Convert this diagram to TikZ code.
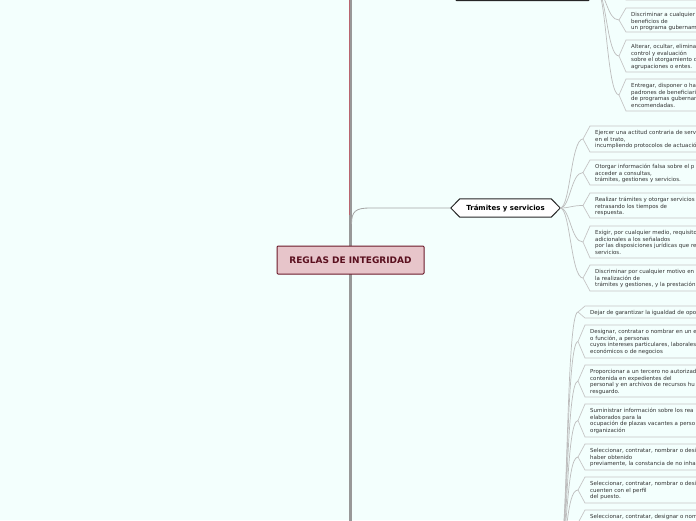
\documentclass[tikz,border=0pt]{standalone}
\usepackage{fontspec}
\setmainfont{DejaVu Sans}
\definecolor{bgc}{HTML}{F3FFFD}
\definecolor{cfill}{HTML}{E7C5CA}
\definecolor{cdraw}{HTML}{6B1A2A}
\definecolor{ctext}{HTML}{5A0F1E}
\definecolor{leafc}{HTML}{C6C6C6}
\definecolor{connc}{HTML}{BDBDBD}
\definecolor{ltext}{HTML}{333333}
\definecolor{trunk}{HTML}{989898}
\definecolor{redline}{HTML}{C85060}
\tikzset{
  leafline/.style={draw=leafc, line width=0.7pt},
  leaftext/.style={font=\fontsize{5.5}{6.5}\selectfont, text=ltext, align=left, inner sep=0pt, anchor=north west},
  conn/.style={draw=connc, line width=0.7pt},
  hexbox/.style={minimum width=109pt, minimum height=18pt, inner sep=0pt, font=\bfseries\fontsize{7}{8}\selectfont},
  centralbox/.style={draw=cdraw, fill=cfill, line width=1pt, rounded corners=1pt, minimum width=147pt, minimum height=28pt, inner sep=0pt, text=ctext, font=\bfseries\fontsize{9}{10}\selectfont}
}
\newcommand{\leafshape}[5]{%
  \coordinate (#1p) at (#2,{(#3+#4)/2});
  \draw[leafline] (710,#3) -- ({#2+7},#3) -- (#1p) -- ({#2+7},#4) -- (710,#4);
  \node[leaftext] (#1) at ({#2+12},{#3+4.2}) {#5};
}
\newcommand{\hexpath}[1]{%
  \draw[draw=black!85, fill=white, line width=1pt] (#1.west) -- ([xshift=9pt]#1.north west) -- ([xshift=-9pt]#1.north east) -- (#1.east) -- ([xshift=-9pt]#1.south east) -- ([xshift=9pt]#1.south west) -- cycle;
}
\begin{document}
\begin{tikzpicture}[x=1pt,y=-1pt]
\useasboundingbox (0,0) rectangle (696,520);
\fill[bgc] (0,0) rectangle (696,520);
\clip (0,0) rectangle (696,520);

% trunk
\draw[trunk, line width=2.6pt] (350.5,-5) -- (350.5,525);
\draw[redline, opacity=0.7, line width=0.7pt] (349.4,-5) -- (349.4,215);

% top (off-frame) branch node
\node[hexbox, minimum width=149pt] (thex) at (522.5,-8.5) {};
\hexpath{thex}

% Tramites branch
\node[hexbox] (tram) at (505.5,208) {};
\hexpath{tram}
\node[hexbox] (tramt) at (tram.center) {Trámites y servicios};
\draw[draw=black!35, line width=0.8pt] (351.5,224) .. controls (351.5,211) and (356,208) .. (370,208) -- (tram.west);

% central node
\node[centralbox] (central) at (350.5,260) {REGLAS DE INTEGRIDAD};

% top leaves
\leafshape{T1}{619}{-25}{0}{}
\leafshape{T2}{619}{8}{32}{Discriminar a cualquier\\beneficios de\\un programa gubernam}
\leafshape{T3}{619}{40}{72}{Alterar, ocultar, eliminar\\control y evaluación\\sobre el otorgamiento d\\agrupaciones o entes.}
\leafshape{T4}{619}{79}{111}{Entregar, disponer o ha\\padrones de beneficiario\\de programas gubernam\\encomendadas.}
\foreach \k in {T1,T2,T3,T4}{
  \draw[conn] (thex.east) .. controls +(9,0) and +(-12,0) .. (\k p);
}

% Tramites leaves
\leafshape{L1}{583}{126}{152}{Ejercer una actitud contraria de serv\\en el trato,\\incumpliendo protocolos de actuació}
\leafshape{L2}{583}{160}{185}{Otorgar información falsa sobre el p\\acceder a consultas,\\trámites, gestiones y servicios.}
\leafshape{L3}{583}{193}{218}{Realizar trámites y otorgar servicios\\retrasando los tiempos de\\respuesta.}
\leafshape{L4}{583}{226}{258}{Exigir, por cualquier medio, requisito\\adicionales a los señalados\\por las disposiciones jurídicas que re\\servicios.}
\leafshape{L5}{583}{265}{291}{Discriminar por cualquier motivo en\\la realización de\\trámites y gestiones, y la prestación}
\foreach \k in {L1,L2,L3,L4,L5}{
  \draw[conn] (tram.east) .. controls +(10,0) and +(-12,0) .. (\k p);
}

% bottom leaves
\coordinate (bsrc) at (560,548);
\leafshape{B1}{578}{306}{318}{Dejar de garantizar la igualdad de opo}
\leafshape{B2}{578}{325}{358}{Designar, contratar o nombrar en un e\\o función, a personas\\cuyos intereses particulares, laborales\\económicos o de negocios}
\leafshape{B3}{578}{365}{397}{Proporcionar a un tercero no autorizad\\contenida en expedientes del\\personal y en archivos de recursos hu\\resguardo.}
\leafshape{B4}{578}{404}{437}{Suministrar información sobre los rea\\elaborados para la\\ocupación de plazas vacantes a perso\\organización}
\leafshape{B5}{578}{444}{470}{Seleccionar, contratar, nombrar o desi\\haber obtenido\\previamente, la constancia de no inha}
\leafshape{B6}{578}{477}{503}{Seleccionar, contratar, nombrar o desi\\cuenten con el perfil\\del puesto.}
\leafshape{B7}{578}{510}{536}{Seleccionar, contratar, designar o nom}
\foreach \k in {B1,B2,B3,B4,B5,B6,B7}{
  \draw[conn] (bsrc) .. controls +(8,0) and +(-12,0) .. (\k p);
}
\end{tikzpicture}
\end{document}
